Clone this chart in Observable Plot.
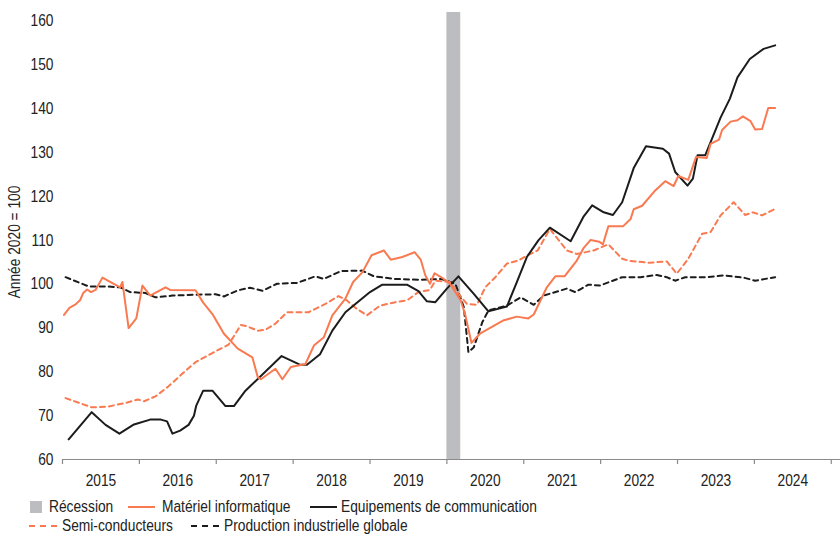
<!DOCTYPE html>
<html><head><meta charset="utf-8">
<script src="https://cdn.jsdelivr.net/npm/d3@7"></script>
<script src="https://cdn.jsdelivr.net/npm/@observablehq/plot@0.6"></script>
<style>
body{margin:0;background:#fff;font-family:"Liberation Sans",Arial,sans-serif;color:#222;}
#chart{width:840px;height:495px;}
.legend{position:relative;width:840px;height:40px;font-size:16px;}
.legend .t{position:absolute;line-height:18px;white-space:nowrap;transform:scaleX(0.86);transform-origin:left center;}
.legend .s{position:absolute;}
.sq{position:absolute;width:12px;height:12px;background:#bcbdc0;}
</style></head><body>
<div id="chart"></div>
<div class="legend" id="legend"></div>
<script>
// Recession period (decimal years)
const recession = [2020.0, 2020.18];
const yTicks = [60, 70, 80, 90, 100, 110, 120, 130, 140, 150, 160];
const yearTicks = [2015, 2016, 2017, 2018, 2019, 2020, 2021, 2022, 2023, 2024, 2025];
const yearLabels = ["2015", "2016", "2017", "2018", "2019", "2020", "2021", "2022", "2023", "2024"];
const legendLabels = ["Récession", "Matériel informatique", "Equipements de communication", "Semi-conducteurs", "Production industrielle globale"];

// Matériel informatique
const materielT = [2015.02,2015.09,2015.17,2015.23,2015.27,2015.32,2015.37,2015.43,2015.52,2015.75,2015.78,2015.86,2015.96,2016.04,2016.14,2016.34,2016.40,2016.73,2016.83,2016.95,2017.10,2017.28,2017.47,2017.54,2017.58,2017.77,2017.86,2017.97,2018.16,2018.27,2018.40,2018.51,2018.68,2018.78,2018.90,2019.02,2019.18,2019.27,2019.42,2019.58,2019.66,2019.72,2019.78,2019.84,2019.96,2020.04,2020.18,2020.24,2020.32,2020.43,2020.58,2020.73,2020.91,2021.06,2021.13,2021.30,2021.41,2021.53,2021.69,2021.78,2021.87,2021.98,2022.03,2022.10,2022.29,2022.39,2022.43,2022.54,2022.71,2022.84,2022.95,2023.01,2023.14,2023.24,2023.38,2023.43,2023.54,2023.58,2023.69,2023.78,2023.85,2023.95,2024.01,2024.10,2024.18,2024.27];
const materielV = [93.0,94.6,95.4,96.4,98.0,98.8,98.2,98.7,101.5,99.3,100.5,90.0,92.2,99.7,97.4,99.3,98.7,98.6,95.8,93.2,88.7,85.3,83.3,78.8,78.3,80.7,78.3,81.1,81.8,86.0,87.9,92.9,96.7,100.5,102.7,106.6,107.7,105.6,106.2,107.3,105.6,102.0,100.1,102.5,101.2,100.1,96.3,92.9,86.6,88.7,90.2,91.7,92.6,92.2,93.1,99.3,101.8,101.8,105.4,108.3,110.1,109.7,109.1,113.2,113.2,114.9,117.1,117.9,121.4,123.5,122.4,124.7,123.8,129.0,128.8,132.0,133.0,135.2,137.1,137.4,138.3,137.2,135.3,135.4,140.2,140.2];

// Equipements de communication
const equipT = [2015.08,2015.38,2015.56,2015.74,2015.93,2016.14,2016.28,2016.36,2016.43,2016.53,2016.64,2016.71,2016.74,2016.83,2016.95,2017.12,2017.23,2017.38,2017.85,2018.08,2018.18,2018.35,2018.51,2018.68,2018.81,2019.00,2019.16,2019.48,2019.63,2019.74,2019.85,2020.00,2020.15,2020.35,2020.54,2020.78,2020.91,2021.04,2021.19,2021.34,2021.61,2021.78,2021.89,2022.04,2022.16,2022.28,2022.43,2022.59,2022.81,2022.89,2022.97,2023.13,2023.20,2023.26,2023.36,2023.56,2023.68,2023.78,2023.94,2024.12,2024.27];
const equipV = [64.6,70.8,67.9,65.9,68.0,69.1,69.1,68.7,65.9,66.6,67.9,70.0,72.3,75.7,75.7,72.2,72.2,75.7,83.6,81.7,81.6,84.0,89.4,93.6,95.5,98.2,99.9,99.9,98.4,96.1,95.9,99.0,101.8,97.8,93.8,94.9,100.5,106.2,110.0,112.9,109.8,115.5,118.0,116.4,115.8,118.7,126.5,131.5,130.9,129.8,125.6,122.5,124.1,129.4,129.4,138.0,142.3,147.2,151.4,153.7,154.5];

// Semi-conducteurs
const semiT = [2015.04,2015.38,2015.60,2015.82,2015.98,2016.06,2016.21,2016.38,2016.56,2016.73,2016.95,2017.16,2017.32,2017.40,2017.54,2017.64,2017.77,2017.92,2018.20,2018.42,2018.59,2018.70,2018.81,2018.96,2019.13,2019.33,2019.48,2019.63,2019.78,2019.85,2020.04,2020.18,2020.26,2020.39,2020.50,2020.63,2020.78,2020.93,2021.05,2021.18,2021.34,2021.56,2021.69,2021.91,2022.10,2022.28,2022.38,2022.63,2022.86,2022.99,2023.14,2023.32,2023.43,2023.56,2023.73,2023.88,2023.98,2024.10,2024.27];
const semiV = [74.0,71.9,72.1,72.9,73.7,73.3,74.4,76.7,79.6,82.2,84.3,86.2,90.7,90.4,89.4,89.6,91.0,93.6,93.6,95.5,97.3,96.3,94.6,92.9,95.1,95.9,96.3,98.2,98.7,100.8,100.5,97.2,95.5,95.3,99.3,101.6,104.7,105.4,106.6,107.7,112.6,107.7,106.9,107.7,109.1,105.8,105.3,104.9,105.2,102.4,105.8,111.5,111.9,115.7,118.7,115.8,116.4,115.7,117.2];

// Production industrielle globale
const prodT = [2015.04,2015.34,2015.56,2015.75,2015.88,2016.08,2016.21,2016.43,2016.73,2016.99,2017.10,2017.28,2017.44,2017.60,2017.79,2018.05,2018.29,2018.40,2018.62,2018.90,2019.05,2019.33,2019.63,2019.93,2020.11,2020.22,2020.28,2020.35,2020.46,2020.54,2020.78,2020.96,2021.13,2021.26,2021.56,2021.67,2021.84,2021.99,2022.28,2022.52,2022.73,2022.86,2022.97,2023.10,2023.38,2023.60,2023.86,2024.01,2024.27];
const prodV = [101.6,99.5,99.5,99.3,98.2,98.0,97.0,97.4,97.6,97.7,97.2,98.6,99.2,98.5,100.1,100.3,101.8,101.2,103.0,103.1,101.8,101.2,101.0,101.2,100.1,94.8,84.5,85.6,91.3,94.0,95.1,97.0,95.3,97.4,99.0,98.2,99.9,99.7,101.6,101.6,102.1,101.6,100.8,101.6,101.6,102.0,101.5,100.8,101.6];

const ORANGE = "#f97a51", BLACK = "#1c1c1c", GREY = "#bcbdc0", AXIS = "#8a8a8a", TEXT = "#222";
const FONT = '"Liberation Sans", Arial, sans-serif';
const pts = (T, V) => T.map((t, i) => ({t, v: V[i]}));

const chart = Plot.plot({
  width: 840, height: 495,
  marginLeft: 62, marginRight: 0, marginTop: 12, marginBottom: 36,
  style: {fontFamily: FONT, fontSize: "16px", color: TEXT, background: "#fff"},
  x: {type: "linear", domain: [2015, 2025.12], label: null},
  y: {domain: [60, 162], label: null},
  marks: [
    Plot.rect([recession], {x1: d => d[0], x2: d => d[1], y1: 60, y2: 162, fill: GREY}),
    Plot.ruleY([60], {stroke: AXIS, strokeWidth: 1.2}),
    Plot.axisX({ticks: yearTicks, tickSize: 5, tickFormat: () => "", stroke: AXIS, strokeWidth: 1.2, label: null}),
    Plot.axisX({ticks: yearLabels.map(d => +d + 0.5), tickSize: 0, tickPadding: 15, tickFormat: d => yearLabels[Math.floor(d) - 2015], fontSize: 16, fill: TEXT, label: null}),
    Plot.axisY({ticks: yTicks, tickSize: 0, tickPadding: 9, fontSize: 16, label: null, fill: TEXT}),
    Plot.text(["Année 2020 = 100"], {frameAnchor: "left", dx: -48, dy: 6, rotate: -90, textAnchor: "middle", fontSize: 16, fill: TEXT}),
    Plot.line(pts(prodT, prodV), {x: "t", y: "v", stroke: BLACK, strokeWidth: 2, strokeDasharray: "5,4"}),
    Plot.line(pts(semiT, semiV), {x: "t", y: "v", stroke: ORANGE, strokeWidth: 2, strokeDasharray: "5,4"}),
    Plot.line(pts(equipT, equipV), {x: "t", y: "v", stroke: BLACK, strokeWidth: 2}),
    Plot.line(pts(materielT, materielV), {x: "t", y: "v", stroke: ORANGE, strokeWidth: 2})
  ]
});
// condense glyphs horizontally to mimic the condensed typeface of the original
chart.querySelectorAll("text").forEach(t => {
  const tr = t.getAttribute("transform");
  if (tr) t.setAttribute("transform", tr + " scale(0.86,1)");
  else {
    const x = +t.getAttribute("x") || 0, y = +t.getAttribute("y") || 0;
    t.setAttribute("transform", `translate(${x},${y}) scale(0.86,1) translate(${-x},${-y})`);
  }
});
document.getElementById("chart").appendChild(chart);

const sw = (color, dash, w, left, top) => `<svg class="s" style="left:${left}px;top:${top - 2}px" width="${w}" height="4"><line x1="0" y1="2" x2="${w}" y2="2" stroke="${color}" stroke-width="2" ${dash ? 'stroke-dasharray="6,5"' : ''}/></svg>`;
const txt = (s, left, top) => `<span class="t" style="left:${left}px;top:${top - 9}px">${s}</span>`;
const r1 = 12, r2 = 31;
document.getElementById("legend").innerHTML =
  `<span class="sq" style="left:30px;top:${r1 - 6}px"></span>` + txt(legendLabels[0], 49, r1) +
  sw(ORANGE, false, 27, 128, r1) + txt(legendLabels[1], 162, r1) +
  sw(BLACK, false, 27, 310, r1) + txt(legendLabels[2], 341, r1) +
  sw(ORANGE, true, 28, 29, r2) + txt(legendLabels[3], 62, r2) +
  sw(BLACK, true, 28, 191, r2) + txt(legendLabels[4], 224, r2);
</script>
</body></html>
